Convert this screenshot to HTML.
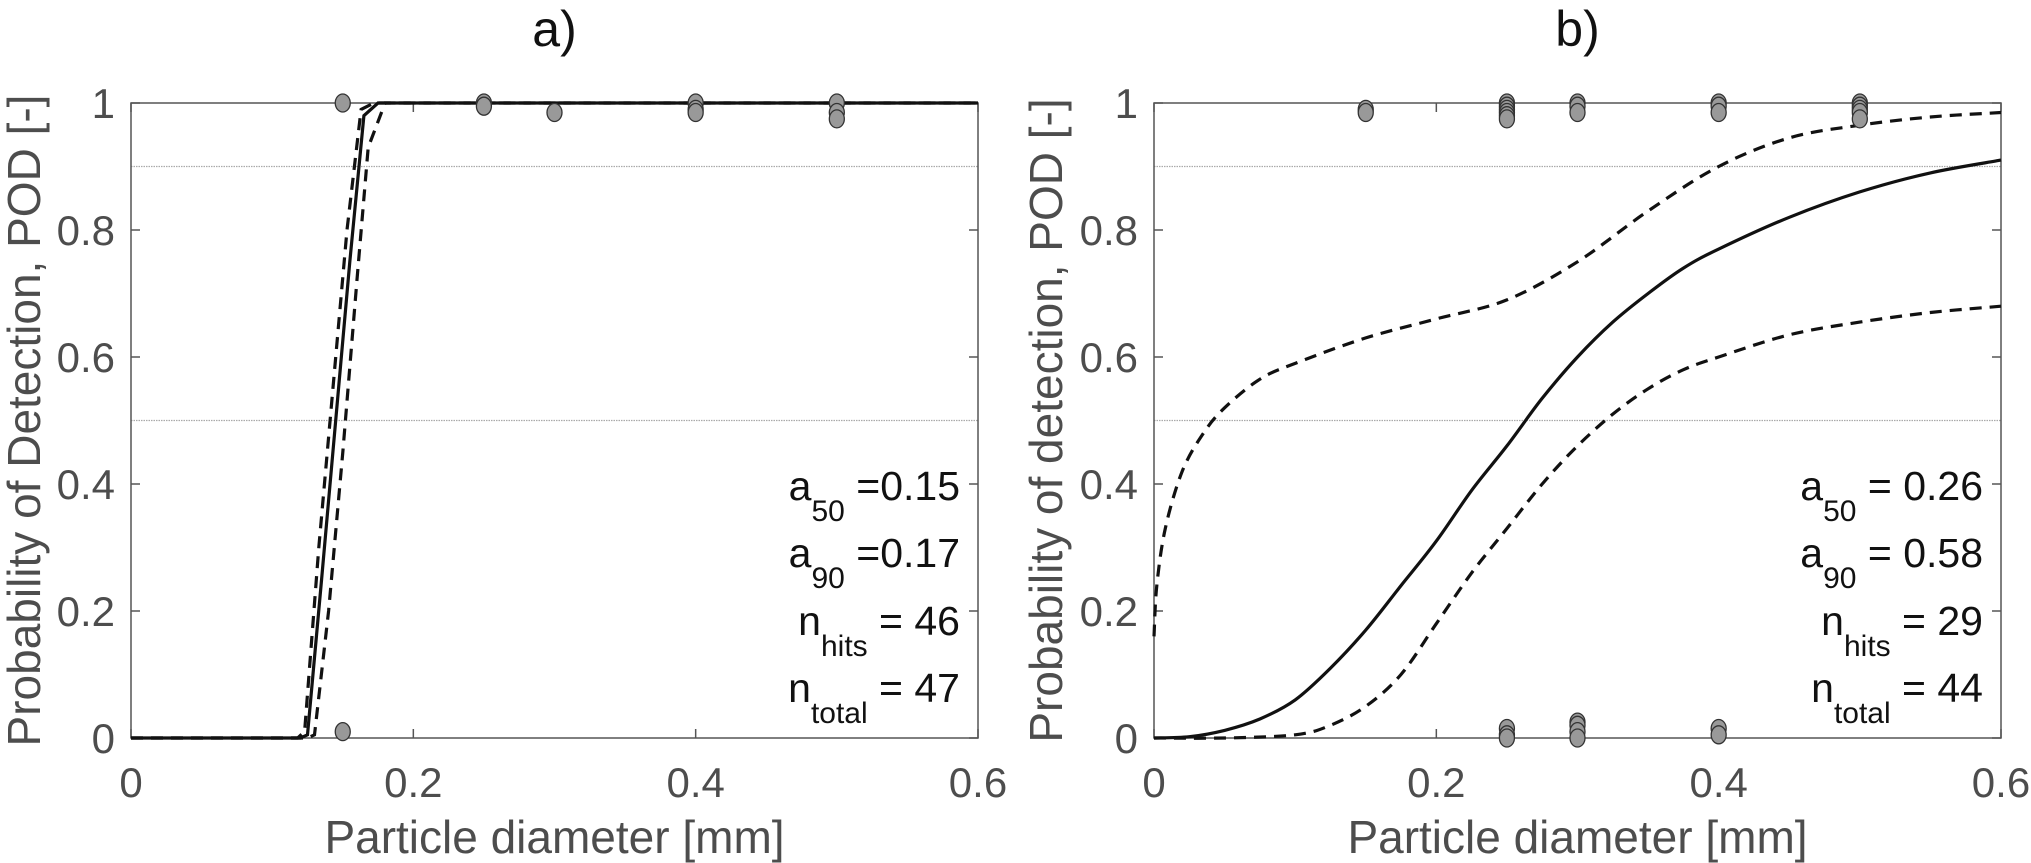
<!DOCTYPE html>
<html><head><meta charset="utf-8"><style>
html,body{margin:0;padding:0;background:#fff;}
svg{display:block;font-family:"Liberation Sans",sans-serif;}
</style></head><body>
<svg id="fig" width="2031" height="863" viewBox="0 0 2031 863" xmlns="http://www.w3.org/2000/svg"></svg>
<script>
// ---- Data ----
const xTicks = [0, 0.2, 0.4, 0.6];
const xTickLabels = ["0", "0.2", "0.4", "0.6"];
const yTicks = [0, 0.2, 0.4, 0.6, 0.8, 1];
const yTickLabels = ["0", "0.2", "0.4", "0.6", "0.8", "1"];
const refLines = [0.5, 0.9];

const aFitX = [0, 0.12, 0.125, 0.135, 0.145, 0.155, 0.165, 0.175, 0.6];
const aFitY = [0, 0, 0.005, 0.25, 0.5, 0.75, 0.98, 1, 1];
const aUpX = [0, 0.118, 0.123, 0.133, 0.143, 0.153, 0.163, 0.172, 0.6];
const aUpY = [0, 0, 0.01, 0.3, 0.55, 0.8, 0.99, 1, 1];
const aLoX = [0, 0.125, 0.13, 0.14, 0.15, 0.16, 0.168, 0.18, 0.6];
const aLoY = [0, 0, 0.005, 0.2, 0.45, 0.72, 0.93, 1, 1];
const aPtsX = [0.15, 0.15, 0.25, 0.25, 0.3, 0.4, 0.4, 0.4, 0.5, 0.5, 0.5];
const aPtsY = [1, 0.01, 1, 0.995, 0.985, 1, 0.99, 0.985, 1, 0.985, 0.975];

const bFitX = [0, 0.025, 0.05, 0.075, 0.1, 0.125, 0.15, 0.175, 0.2, 0.225, 0.25, 0.275, 0.3, 0.325, 0.35, 0.375, 0.4, 0.45, 0.5, 0.55, 0.6];
const bFitY = [0, 0.002, 0.012, 0.03, 0.06, 0.11, 0.17, 0.24, 0.31, 0.39, 0.46, 0.535, 0.6, 0.655, 0.7, 0.74, 0.77, 0.82, 0.86, 0.89, 0.91];
const bUpX = [0, 0.002, 0.008, 0.02, 0.035, 0.05, 0.075, 0.1, 0.15, 0.2, 0.25, 0.3, 0.35, 0.4, 0.45, 0.5, 0.55, 0.6];
const bUpY = [0.16, 0.24, 0.33, 0.42, 0.48, 0.52, 0.565, 0.59, 0.63, 0.66, 0.69, 0.75, 0.83, 0.9, 0.945, 0.965, 0.978, 0.985];
const bLoX = [0, 0.05, 0.1, 0.125, 0.15, 0.175, 0.2, 0.225, 0.25, 0.275, 0.3, 0.325, 0.35, 0.375, 0.4, 0.45, 0.5, 0.55, 0.6];
const bLoY = [0, 0, 0.005, 0.02, 0.05, 0.1, 0.18, 0.26, 0.33, 0.4, 0.46, 0.51, 0.55, 0.58, 0.6, 0.635, 0.655, 0.67, 0.68];
const bPtsX = [0.15, 0.15, 0.25, 0.25, 0.25, 0.25, 0.25, 0.25, 0.25, 0.25, 0.25, 0.3, 0.3, 0.3, 0.3, 0.3, 0.3, 0.3, 0.4, 0.4, 0.4, 0.4, 0.4, 0.5, 0.5, 0.5, 0.5, 0.5];
const bPtsY = [0.99, 0.985, 1, 0.995, 0.99, 0.985, 0.98, 0.975, 0.015, 0.005, 0, 1, 0.995, 0.985, 0.025, 0.02, 0.01, 0, 1, 0.995, 0.985, 0.015, 0.005, 1, 0.995, 0.99, 0.985, 0.975];

const NS = "http://www.w3.org/2000/svg";
const svg = document.getElementById("fig");
function mk(tag, attrs, parent) {
  const e = document.createElementNS(NS, tag);
  for (const k in attrs) e.setAttribute(k, attrs[k]);
  (parent || svg).appendChild(e);
  return e;
}

function smoothPath(pts) {
  let d = "M" + pts[0][0].toFixed(1) + "," + pts[0][1].toFixed(1);
  for (let i = 0; i < pts.length - 1; i++) {
    const p0 = pts[i - 1] || pts[i], p1 = pts[i], p2 = pts[i + 1], p3 = pts[i + 2] || p2;
    const c1 = [p1[0] + (p2[0] - p0[0]) / 6, p1[1] + (p2[1] - p0[1]) / 6];
    const c2 = [p2[0] - (p3[0] - p1[0]) / 6, p2[1] - (p3[1] - p1[1]) / 6];
    d += " C" + c1[0].toFixed(1) + "," + c1[1].toFixed(1) + " " + c2[0].toFixed(1) + "," + c2[1].toFixed(1) + " " + p2[0].toFixed(1) + "," + p2[1].toFixed(1);
  }
  return d;
}

function panel(opt) {
  const L = opt.left, R = opt.right, T = 103, B = 738;
  const sx = v => L + (v - 0) / 0.6 * (R - L);
  const sy = v => B - v * (B - T);
  const g = mk("g", {});
  
  

  refLines.forEach(v => {
    const l = mk("line", {x1: L, x2: R, y1: sy(v), y2: sy(v), stroke: "#aaa", "stroke-width": 1.2, "stroke-dasharray": "1.5 1"}, g);
    
    
  });

  const box = mk("rect", {x: L, y: T, width: R - L, height: B - T, fill: "none", stroke: "#555", "stroke-width": 1.5}, g);
  
  

  xTicks.forEach((v, i) => {
    mk("line", {x1: sx(v), x2: sx(v), y1: B, y2: B - 9, stroke: "#555", "stroke-width": 1.5}, g);
    mk("line", {x1: sx(v), x2: sx(v), y1: T, y2: T + 9, stroke: "#555", "stroke-width": 1.5}, g);
    const t = mk("text", {x: sx(v), y: 797, "text-anchor": "middle", "font-size": 42, fill: "#4d4d4d"}, g);
    t.textContent = xTickLabels[i];
    
    
  });
  yTicks.forEach((v, i) => {
    mk("line", {x1: L, x2: L + 9, y1: sy(v), y2: sy(v), stroke: "#555", "stroke-width": 1.5}, g);
    mk("line", {x1: R, x2: R - 9, y1: sy(v), y2: sy(v), stroke: "#555", "stroke-width": 1.5}, g);
    const t = mk("text", {x: L - 16, y: sy(v) + 15, "text-anchor": "end", "font-size": 42, fill: "#4d4d4d"}, g);
    t.textContent = yTickLabels[i];
    
    
  });

  const line = (xs, ys, dash, name, smooth) => {
    const pts = xs.map((x, i) => [sx(x), sy(ys[i])]);
    const d = smooth ? smoothPath(pts) : pts.map((p, i) => (i ? "L" : "M") + p[0].toFixed(1) + "," + p[1].toFixed(1)).join(" ");
    const p = mk("path", {d, fill: "none", stroke: "#111", "stroke-width": 3.2, "stroke-dasharray": dash || "none"}, g);
    
    
  };
  line(opt.upX, opt.upY, "12 8", "upper-confidence-bound", opt.smooth);
  line(opt.loX, opt.loY, "12 8", "lower-confidence-bound", opt.smooth);
  line(opt.fitX, opt.fitY, null, "pod-fit-curve", opt.smooth);

  opt.ptsX.forEach((x, i) => {
    const c = mk("ellipse", {cx: sx(x), cy: sy(opt.ptsY[i]), rx: 7.5, ry: 9, fill: "#999", stroke: "#333", "stroke-width": 1.3}, g);
    
    
  });

  const title = mk("text", {x: (L + R) / 2, y: 46, "text-anchor": "middle", "font-size": 50, fill: "#111"}, g);
  title.textContent = opt.title;
  
  

  const xl = mk("text", {x: (L + R) / 2, y: 853, "text-anchor": "middle", "font-size": 46, fill: "#4d4d4d"}, g);
  xl.textContent = "Particle diameter [mm]";
  
  

  const yl = mk("text", {x: 0, y: 0, "text-anchor": "middle", "font-size": 46, fill: "#4d4d4d", transform: "translate(" + opt.ylx + "," + ((T + B) / 2) + ") rotate(-90)"}, g);
  yl.textContent = opt.ylabel;
  
  

  const ys = [500, 567, 635, 702];
  opt.ann.forEach((a, i) => {
    const t = mk("text", {x: opt.annX, y: ys[i], "text-anchor": "end", "font-size": 41, fill: "#111"}, g);
    const s1 = mk("tspan", {}, t); s1.textContent = a[0];
    const s2 = mk("tspan", {dy: 21, "font-size": 30}, t); s2.textContent = a[1];
    const s3 = mk("tspan", {dy: -21}, t); s3.textContent = a[2];
    
    
  });
}

panel({name: "panel-a", left: 131, right: 978, title: "a)", ylabel: "Probability of Detection, POD [-]", ylx: 40, smooth: false,
  fitX: aFitX, fitY: aFitY, upX: aUpX, upY: aUpY, loX: aLoX, loY: aLoY, ptsX: aPtsX, ptsY: aPtsY, annX: 960,
  ann: [["a", "50", " =0.15"], ["a", "90", " =0.17"], ["n", "hits", " = 46"], ["n", "total", " = 47"]]});
panel({name: "panel-b", left: 1154, right: 2001, title: "b)", ylabel: "Probability of detection, POD [-]", ylx: 1062, smooth: true,
  fitX: bFitX, fitY: bFitY, upX: bUpX, upY: bUpY, loX: bLoX, loY: bLoY, ptsX: bPtsX, ptsY: bPtsY, annX: 1983,
  ann: [["a", "50", " = 0.26"], ["a", "90", " = 0.58"], ["n", "hits", " = 29"], ["n", "total", " = 44"]]});
</script>
</body></html>
